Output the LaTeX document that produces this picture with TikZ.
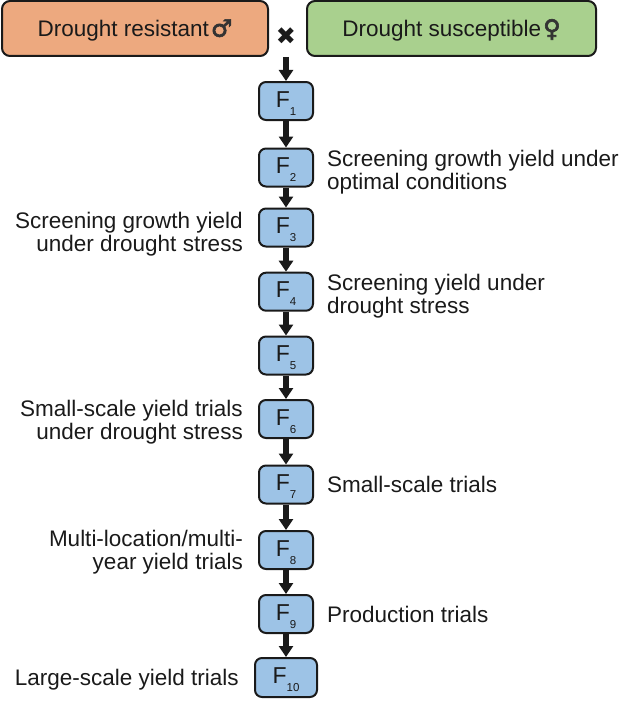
\documentclass[tikz,border=0pt]{standalone}
\usepackage{fontspec}
\setmainfont{Liberation Sans}
\newfontfamily\symbold[FakeBold=2.5]{DejaVu Sans}
\newfontfamily\crossfont{DejaVu Sans Bold}
\usetikzlibrary{arrows.meta}
\definecolor{salmon}{HTML}{EDA97F}
\definecolor{leaf}{HTML}{A9D08E}
\definecolor{sky}{HTML}{9DC3E6}
\definecolor{ink}{HTML}{1A1A1A}
\definecolor{sexgray}{HTML}{333333}
\newcommand\Fgen[1]{{\fontsize{23}{23}\selectfont F}\raisebox{-8pt}{\fontsize{11.5}{11.5}\selectfont #1}}
\newcommand\sexsym[1]{{\symbold\fontsize{24}{24}\selectfont\color{sexgray}#1}}
\begin{document}
\begin{tikzpicture}[x=1pt,y=-1pt,
  parent/.style={draw=ink, line width=2pt, rounded corners=8pt, minimum height=55pt, inner sep=0pt, text height=16.4pt, text depth=0pt, font=\fontsize{22.5}{24}\selectfont, text=ink},
  gen/.style={draw=ink, fill=sky, line width=2pt, rounded corners=7pt, minimum width=54pt, minimum height=38pt, inner sep=0pt, text height=20pt, text depth=8pt, text=ink},
  flow/.style={-{Triangle[width=14pt,length=11pt]}, line width=6pt, draw=ink},
  lab/.style={inner sep=0pt, font=\fontsize{22.5}{23}\selectfont, text=ink}]
\useasboundingbox (0,0) rectangle (628,701);
% parents
\node[parent, fill=salmon, minimum width=266pt] (dr) at (135,28.5) {Drought resistant\kern2pt\sexsym{♂}};
\node[parent, fill=leaf, minimum width=289pt] (ds) at (451.5,28.5) {Drought susceptible\kern2pt\sexsym{♀}};
\node[inner sep=0pt, font=\crossfont\fontsize{24}{24}\selectfont, text=ink] (cross) at (286,36) {✖};
% generations
\node[gen] (f1) at (286,101) {\Fgen{1}};
\node[gen] (f2) at (286,167.5) {\Fgen{2}};
\node[gen] (f3) at (286,227.5) {\Fgen{3}};
\node[gen] (f4) at (286,291.7) {\Fgen{4}};
\node[gen] (f5) at (286,355.5) {\Fgen{5}};
\node[gen] (f6) at (286,419) {\Fgen{6}};
\node[gen] (f7) at (286,484.5) {\Fgen{7}};
\node[gen] (f8) at (286,550) {\Fgen{8}};
\node[gen] (f9) at (286,614) {\Fgen{9}};
\node[gen, minimum width=62pt, minimum height=39pt] (f10) at (286,677.5) {\Fgen{10}};
% connectors
\coordinate (start) at (286,57);
\draw[flow] (start) -- (f1);
\draw[flow] (f1) -- (f2);
\draw[flow] (f2) -- (f3);
\draw[flow] (f3) -- (f4);
\draw[flow] (f4) -- (f5);
\draw[flow] (f5) -- (f6);
\draw[flow] (f6) -- (f7);
\draw[flow] (f7) -- (f8);
\draw[flow] (f8) -- (f9);
\draw[flow] (f9) -- (f10);
% labels
\node[lab, anchor=north west, align=left] (l2) at (327,150) {Screening growth yield under\\optimal conditions};
\node[lab, anchor=north east, align=right] (l3) at (243,211.6) {Screening growth yield\\under drought stress};
\node[lab, anchor=north west, align=left] (l4) at (327,274.3) {Screening yield under\\drought stress};
\node[lab, anchor=north east, align=right] (l6) at (243,400.3) {Small-scale yield trials\\under drought stress};
\node[lab, anchor=north west, align=left] (l7) at (327,476.3) {Small-scale trials};
\node[lab, anchor=north east, align=right] (l8) at (243,530.3) {Multi-location/multi-\\year yield trials};
\node[lab, anchor=north west, align=left] (l9) at (327,606.3) {Production trials};
\node[lab, anchor=north east, align=right] (l10) at (239,668.6) {Large-scale yield trials};
\end{tikzpicture}
\end{document}
